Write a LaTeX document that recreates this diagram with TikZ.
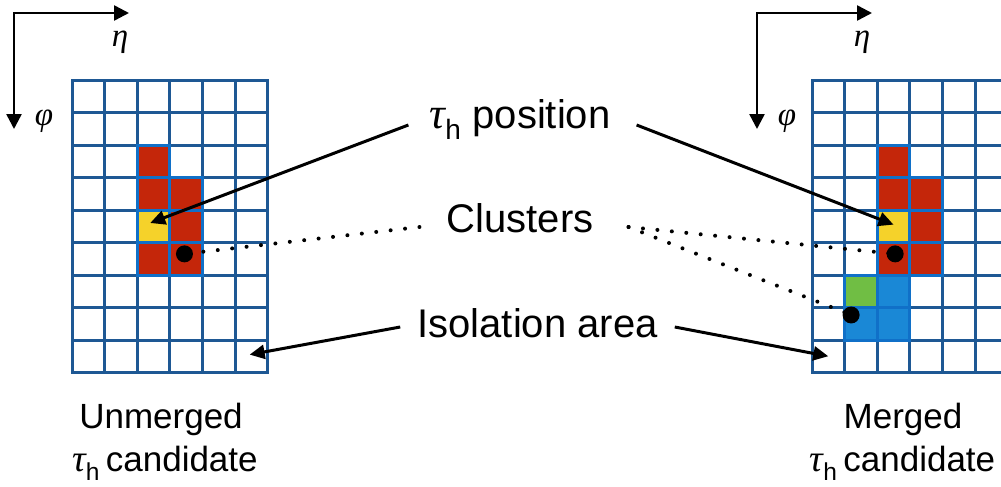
\documentclass[tikz,border=0pt]{standalone}
\usepackage{fontspec}
\setmainfont{Liberation Sans}
\newfontfamily\grk{Liberation Serif}
\newcommand{\gtau}{{\grk\itshape\fontsize{44}{48}\selectfont τ}}
\newcommand{\gtaus}{{\grk\itshape\fontsize{38}{42}\selectfont τ}}
\usetikzlibrary{arrows.meta,calc}
\definecolor{gridc}{RGB}{30,88,148}
\definecolor{borderc}{RGB}{16,112,200}
\definecolor{redc}{RGB}{196,38,10}
\definecolor{yelc}{RGB}{245,210,42}
\definecolor{grnc}{RGB}{112,190,68}
\definecolor{bluc}{RGB}{26,136,214}
\begin{document}
\begin{tikzpicture}[x=1pt,y=-1pt,
  gridline/.style={draw=gridc,line width=3pt,line cap=rect},
  cellbox/.style={draw=borderc,line width=3pt},
  arr/.style={-{Triangle[length=15pt,width=14pt]},line width=3pt},
  axtip/.style={line width=2.5pt,line join=miter,{Triangle[length=15pt,width=15pt]}-{Triangle[length=15pt,width=15pt]}},
  dotline/.style={line width=4pt,line cap=round,dash pattern=on 0pt off 14.5pt},
  bigdot/.style={circle,fill=black,inner sep=0pt,minimum size=17pt},
  lbl/.style={inner sep=0pt,font=\fontsize{40}{48}\selectfont,anchor=base},
  sublbl/.style={inner sep=0pt,font=\fontsize{35}{42}\selectfont,anchor=base},
  axlbl/.style={inner sep=0pt,font=\fontsize{33}{38}\selectfont\grk\itshape}]
\useasboundingbox (0,0) rectangle (1001,487);
\clip (0,0) rectangle (1001,487);
\fill[white] (0,0) rectangle (1001,487);

% ---------- left grid ----------
\begin{scope}[shift={(72,80)},x=32.6pt,y=-32.5pt]
  \foreach \i in {0,...,6} \draw[gridline] (\i,0) -- (\i,9);
  \foreach \j in {0,...,9} \draw[gridline] (0,\j) -- (6,\j);
  \filldraw[cellbox,fill=redc] (2,2) rectangle (3,3);
  \filldraw[cellbox,fill=redc] (2,3) rectangle (3,4);
  \filldraw[cellbox,fill=redc] (3,3) rectangle (4,4);
  \filldraw[cellbox,fill=yelc] (2,4) rectangle (3,5);
  \filldraw[cellbox,fill=redc] (3,4) rectangle (4,5);
  \filldraw[cellbox,fill=redc] (2,5) rectangle (3,6);
  \filldraw[cellbox,fill=redc] (3,5) rectangle (4,6);
  \coordinate (Lyel) at (2.4,4.4);
  \coordinate (Liso) at (5.45,8.45);
  \coordinate (Ldotc) at (3.45,5.35);
\end{scope}

% ---------- right grid ----------
\begin{scope}[shift={(812,80)},x=32.6pt,y=-32.5pt]
  \foreach \i in {0,...,6} \draw[gridline] (\i,0) -- (\i,9);
  \foreach \j in {0,...,9} \draw[gridline] (0,\j) -- (6,\j);
  \filldraw[cellbox,fill=redc] (2,2) rectangle (3,3);
  \filldraw[cellbox,fill=redc] (2,3) rectangle (3,4);
  \filldraw[cellbox,fill=redc] (3,3) rectangle (4,4);
  \filldraw[cellbox,fill=yelc] (2,4) rectangle (3,5);
  \filldraw[cellbox,fill=redc] (3,4) rectangle (4,5);
  \filldraw[cellbox,fill=redc] (2,5) rectangle (3,6);
  \filldraw[cellbox,fill=redc] (3,5) rectangle (4,6);
  \filldraw[cellbox,fill=grnc] (1,6) rectangle (2,7);
  \filldraw[cellbox,fill=bluc] (2,6) rectangle (3,7);
  \filldraw[cellbox,fill=bluc] (1,7) rectangle (2,8);
  \filldraw[cellbox,fill=bluc] (2,7) rectangle (3,8);
  \coordinate (Ryel) at (2.5,4.45);
  \coordinate (Riso) at (0.5,8.5);
  \coordinate (Rdotc) at (2.55,5.35);
  \coordinate (Rdotg) at (1.2,7.23);
\end{scope}

% ---------- axes ----------
\coordinate (LA0) at (14,13);
\coordinate (LAx) at (129,13);
\coordinate (LAy) at (14,129);
\draw[axtip] (LAx) -- (LA0) -- (LAy);
\node[axlbl] (Leta) at (120,42) {η};
\node[axlbl] (Lphi) at (44,121) {φ};

\coordinate (RA0) at (757,13);
\coordinate (RAx) at (872,13);
\coordinate (RAy) at (757,129);
\draw[axtip] (RAx) -- (RA0) -- (RAy);
\node[axlbl] (Reta) at (862,42) {η};
\node[axlbl] (Rphi) at (787,121) {φ};

% ---------- central labels ----------
\node[lbl] (pos) at (520,128) {\gtau\textsubscript{h} position};
\node[lbl] (clu) at (520,232) {Clusters};
\node[lbl] (iso) at (537.5,337) {Isolation area};

% ---------- dotted connectors and dots ----------
\draw[dotline] ([shift={(-27pt,5pt)}]clu.base west) -- (Ldotc);
\draw[dotline] ([shift={(35pt,5pt)}]clu.base east) -- (Rdotc);
\draw[dotline] ([shift={(35pt,5pt)}]clu.base east) -- (Rdotg);
\node[bigdot] (Ldot) at (Ldotc) {};
\node[bigdot] (Rdot1) at (Rdotc) {};
\node[bigdot] (Rdot2) at (Rdotg) {};

% ---------- arrows ----------
\draw[arr] ([shift={(-21pt,3pt)}]pos.base west) -- (Lyel);
\draw[arr] ([shift={(26pt,3pt)}]pos.base east) -- (Ryel);
\draw[arr] ([shift={(-17pt,10pt)}]iso.base west) -- (Liso);
\draw[arr] ([shift={(17pt,10pt)}]iso.base east) -- (Riso);

% ---------- bottom labels ----------
\node[sublbl] (unm1) at (161,428) {Unmerged};
\node[sublbl] (unm2) at (165,471) {\gtaus\textsubscript{h}\,candidate};
\node[sublbl] (mer1) at (903,428) {Merged};
\node[sublbl] (mer2) at (902.5,471) {\gtaus\textsubscript{h}\,candidate};
\end{tikzpicture}
\end{document}
